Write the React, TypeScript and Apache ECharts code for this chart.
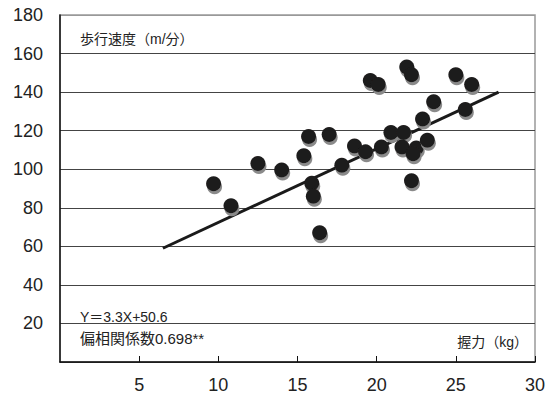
import React, { useEffect, useRef } from "react";
import * as echarts from "echarts";

const gripKg = [9.7, 10.8, 12.5, 14.0, 15.4, 15.7, 15.9, 16.0, 16.4, 17.0, 17.8, 18.6, 19.3, 19.6, 20.1, 20.3, 20.9, 21.7, 21.6, 21.9, 22.2, 22.2, 22.5, 22.3, 22.9, 23.2, 23.6, 25.0, 26.0, 25.6];
const walkSpeed = [92.5, 81, 103, 99.6, 107, 117, 92.7, 86, 67, 118, 102, 112, 109, 146, 144, 111.5, 119, 119, 111.5, 153, 149, 94, 111, 108, 126, 115, 135, 149, 144, 131];
const lineX = [6.5, 27.7];
const lineY = [59, 140];
const yTitle = "歩行速度（m/分）";
const xTitle = "握力（kg）";
const equation = "Y＝3.3X+50.6";
const corr = "偏相関係数0.698**";

export default function App() {
  const ref = useRef<HTMLDivElement>(null);
  useEffect(() => {
    if (!ref.current) return;
    const chart = echarts.init(ref.current, undefined, { renderer: "svg" });
    const font = "'Liberation Sans', Arial, 'Noto Sans CJK JP', sans-serif";
    const splitColors = ["#444", "#444", "#444", "#444", "#444", "#444", "#444", "#444", "#444", "#999"];
    chart.setOption({
      animation: false,
      backgroundColor: "#fff",
      grid: { left: 60, right: 16, top: 15, bottom: 39, show: true, borderColor: "#999", borderWidth: 1.5 },
      xAxis: {
        type: "value",
        min: 0,
        max: 30,
        interval: 5,
        axisLine: { show: true, lineStyle: { color: "#111", width: 1.5 } },
        axisTick: { show: true, inside: true, length: 6, lineStyle: { color: "#111" } },
        splitLine: { show: false },
        axisLabel: { showMinLabel: false, margin: 14, fontSize: 18, color: "#222", fontFamily: font },
      },
      yAxis: {
        type: "value",
        min: 0,
        max: 180,
        interval: 20,
        axisLine: { show: true, lineStyle: { color: "#111", width: 1.5 } },
        axisTick: { show: false },
        splitLine: { show: true, lineStyle: { color: splitColors, width: 1.2 } },
        axisLabel: { showMinLabel: false, margin: 17, fontSize: 18, color: "#222", fontFamily: font },
      },
      graphic: [
        { type: "text", left: 80, top: 32, style: { text: yTitle, fontSize: 14, fill: "#222", fontFamily: font } },
        { type: "text", left: 80, top: 310, style: { text: equation, fontSize: 14, fill: "#222", fontFamily: font } },
        { type: "text", left: 80, top: 331, style: { text: corr, fontSize: 15, fill: "#222", fontFamily: font } },
        { type: "text", right: 23, top: 335, style: { text: xTitle, fontSize: 14, fill: "#222", fontFamily: font } },
      ],
      series: [
        {
          type: "line",
          data: lineX.map((x, i) => [x, lineY[i]]),
          symbol: "none",
          lineStyle: { color: "#1a1a1a", width: 3 },
          z: 2,
        },
        {
          type: "scatter",
          data: gripKg.map((x, i) => [x, walkSpeed[i]]),
          symbol: "circle",
          symbolSize: 15,
          itemStyle: { color: "#1e1b1b", opacity: 1, shadowColor: "#8a8a8a", shadowBlur: 0, shadowOffsetX: 1, shadowOffsetY: 3 },
          z: 3,
        },
      ],
    });
    return () => chart.dispose();
  }, []);
  return (
    <div style={{ position: "fixed", left: 0, top: 0, width: 551, height: 401, background: "#fff" }}>
      <div ref={ref} style={{ width: 551, height: 401 }} />
    </div>
  );
}
